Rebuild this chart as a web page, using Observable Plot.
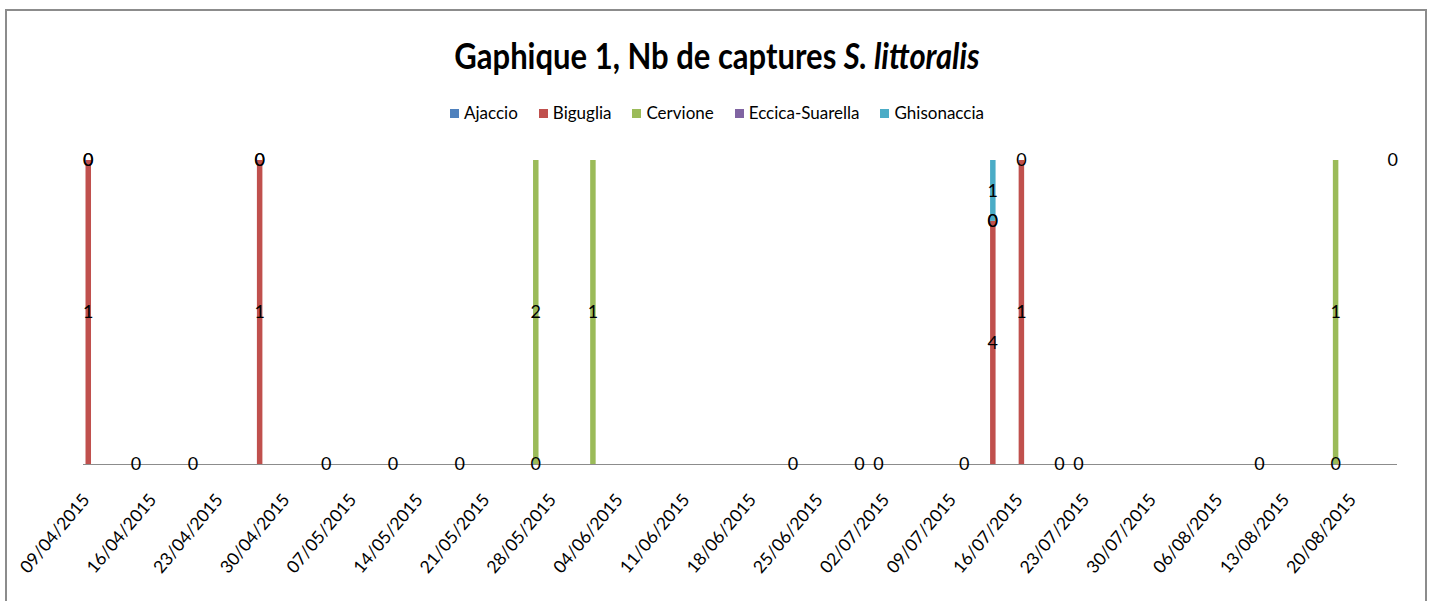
<!DOCTYPE html>
<html>
<head>
<meta charset="utf-8">
<script src="https://cdn.jsdelivr.net/npm/d3@7"></script>
<script src="https://cdn.jsdelivr.net/npm/@observablehq/plot@0.6"></script>
<style>
  body { margin: 0; background: #fff; font-family: Lato, "Open Sans", sans-serif; }
  #wrap { position: relative; width: 1434px; height: 601px; overflow: hidden; background: #fff; }
  #frame { position: absolute; left: 5px; top: 9px; width: 1422px; height: 700px; border: 2px solid #8c8c8c; box-sizing: border-box; }
  #title { position: absolute; left: 0; top: 36px; width: 1434px; text-align: center; font-weight: 700; font-size: 31px; line-height: 38px; color: #000; transform: scaleY(1.14); transform-origin: 50% 50%; }
  #legend { position: absolute; left: 0; top: 102px; width: 1434px; display: flex; justify-content: center; gap: 21px; font-size: 17px; line-height: 22px; color: #000; }
  #legend .item { display: flex; align-items: center; }
  #legend .sw { width: 9px; height: 9px; margin-right: 5px; display: inline-block; }
  #chart { position: absolute; left: 0; top: 135px; }
</style>
</head>
<body>
<div id="wrap">
  <div id="frame"></div>
  <div id="title">Gaphique 1, Nb de captures <i>S. littoralis</i></div>
  <div id="legend"></div>
  <div id="chart"></div>
</div>
<script>
// ---- data ----
const dates = [
  "2015-04-09", "2015-04-14", "2015-04-20", "2015-04-27", "2015-05-04",
  "2015-05-11", "2015-05-18", "2015-05-26", "2015-06-01", "2015-06-22",
  "2015-06-29", "2015-07-01", "2015-07-10", "2015-07-13", "2015-07-16",
  "2015-07-20", "2015-07-22", "2015-08-10", "2015-08-18"
];
const seriesNames = ["Ajaccio", "Biguglia", "Cervione", "Eccica-Suarella", "Ghisonaccia"];
const seriesColors = ["#4F81BD", "#C0504D", "#9BBB59", "#8064A2", "#4BACC6"];
// null = empty cell
const ajaccio    = [null, null, null, null, null, null, null, null, null, null, null, null, null, null, null, null, null, null, null];
const biguglia   = [1, 0, 0, 1, 0, 0, 0, 0, null, 0, 0, 0, 0, 4, 1, 0, 0, 0, 0];
const cervione   = [0, null, null, 0, null, null, null, 2, 1, null, null, null, null, 0, 0, null, null, null, 1];
const eccica     = [0, null, null, 0, null, null, null, null, null, null, null, null, null, 0, null, null, null, null, null];
const ghisonaccia= [null, null, null, null, null, null, null, null, null, null, null, null, null, 1, null, null, null, null, null];
// last sampling date: label only, shown at the top of the 100% scale
const lastDates = ["2015-08-24"];
const lastValues = [0];
const tickLabels = [
  "09/04/2015", "16/04/2015", "23/04/2015", "30/04/2015", "07/05/2015",
  "14/05/2015", "21/05/2015", "28/05/2015", "04/06/2015", "11/06/2015",
  "18/06/2015", "25/06/2015", "02/07/2015", "09/07/2015", "16/07/2015",
  "23/07/2015", "30/07/2015", "06/08/2015", "13/08/2015", "20/08/2015"
];

// ---- build table ----
const seriesValues = [ajaccio, biguglia, cervione, eccica, ghisonaccia];
const rows = [];
dates.forEach((d, i) => {
  seriesNames.forEach((s, j) => {
    const v = seriesValues[j][i];
    if (v !== null && v !== undefined) rows.push({date: new Date(d + "T00:00:00Z"), series: s, value: v});
  });
});
const lastRows = lastDates.map((d, i) => ({date: new Date(d + "T00:00:00Z"), value: lastValues[i]}));
const parseLabel = s => { const [dd, mm, yy] = s.split("/"); return new Date(`${yy}-${mm}-${dd}T00:00:00Z`); };
const tickDates = tickLabels.map(parseLabel);
const labelByTime = new Map(tickDates.map((d, i) => [+d, tickLabels[i]]));

// ---- legend ----
const legend = document.getElementById("legend");
seriesNames.forEach((s, i) => {
  const it = document.createElement("span");
  it.className = "item";
  it.innerHTML = `<span class="sw" style="background:${seriesColors[i]}"></span>${s}`;
  legend.appendChild(it);
});

// ---- chart ----
const allDates = dates.concat(lastDates).map(d => new Date(d + "T00:00:00Z"));
const halfDay = 12 * 3600 * 1000;
const xDomain = [new Date(d3.min(allDates) - halfDay), new Date(+d3.max(allDates) + halfDay)];

const stackOpts = {x: "date", y: "value", z: "series", order: seriesNames, offset: "normalize"};

const chart = Plot.plot({
  width: 1434,
  height: 466,
  marginTop: 25,
  marginBottom: 137,
  marginLeft: 83,
  marginRight: 37,
  style: {fontFamily: "Lato, 'Open Sans', sans-serif", background: "transparent", color: "#000"},
  x: {type: "utc", domain: xDomain},
  y: {domain: [0, 1], axis: null},
  color: {domain: seriesNames, range: seriesColors},
  marks: [
    Plot.ruleY([0], {stroke: "#8c8c8c", strokeWidth: 1.2}),
    Plot.ruleX(rows, Plot.stackY({...stackOpts, stroke: "series", strokeWidth: 5.5})),
    Plot.text(rows, Plot.stackY({...stackOpts, text: d => String(d.value), fill: "#000", fontSize: 18})),
    Plot.text(lastRows, {x: "date", y: () => 1, text: d => String(d.value), fill: "#000", fontSize: 18}),
    Plot.axisX({
      ticks: tickDates,
      tickFormat: d => labelByTime.get(+d),
      tickRotate: -50,
      tickSize: 0,
      tickPadding: 32,
      dx: -2,
      fontSize: 17.5,
      fill: "#000"
    })
  ]
});
document.getElementById("chart").appendChild(chart);
</script>
</body>
</html>
